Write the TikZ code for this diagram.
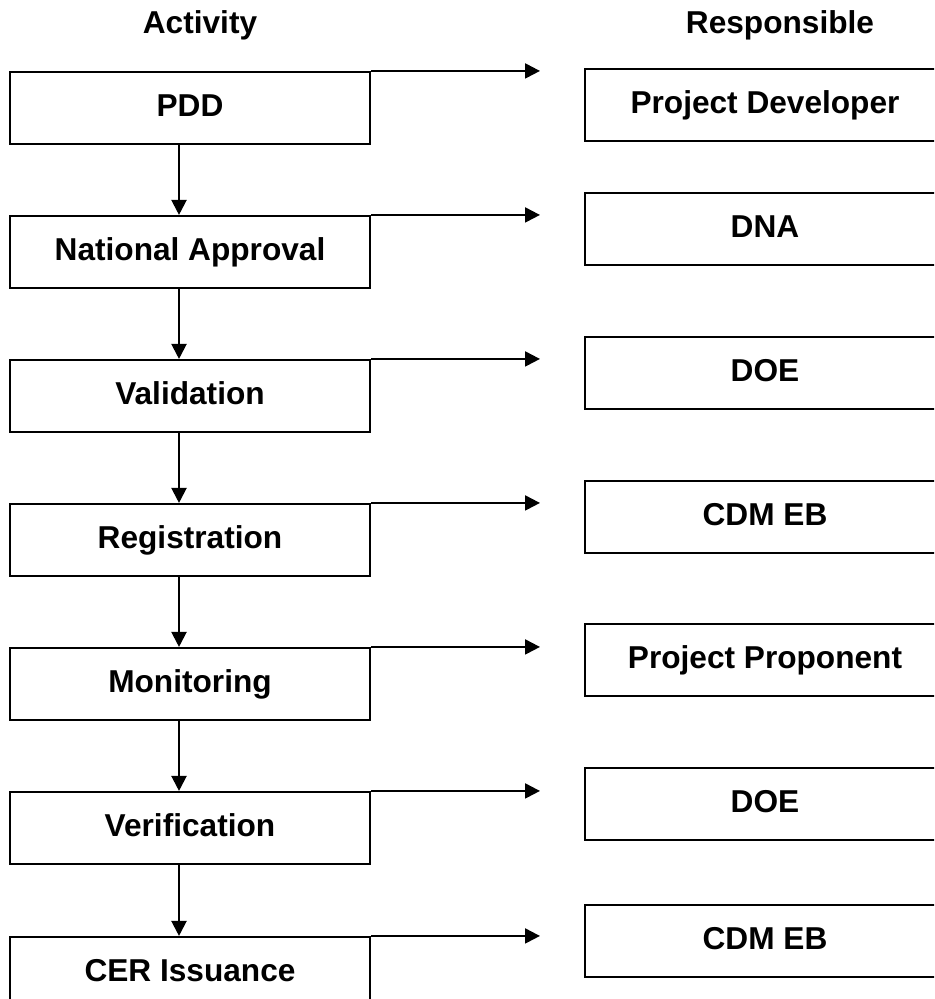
\documentclass[tikz,border=0pt]{standalone}
\usepackage{fontspec}
\setmainfont{Liberation Sans}
\usetikzlibrary{arrows.meta}
\begin{document}
\begin{tikzpicture}[
    box/.style={draw, line width=1.2pt, minimum width=7.2cm, minimum height=1.44cm, inner sep=0pt,
        text height=14pt, text depth=4.5pt, font=\fontsize{18}{22}\selectfont\bfseries},
    head/.style={anchor=base, font=\fontsize{18}{22}\selectfont\bfseries},
    flow/.style={line width=1.2pt, -{Triangle[length=0.3cm, width=0.3cm]}}
]
\clip (0,0) rectangle (18.68,-19.98);

% headings
\node[head] (activity) at (4.0,-0.68) {Activity};
\node[head] (respons) at (15.6,-0.68) {Responsible};

% activities
\node[box] (pdd) at (3.8,-2.16) {PDD};
\node[box] (natappr) at (3.8,-5.04) {National Approval};
\node[box] (valid) at (3.8,-7.92) {Validation};
\node[box] (regist) at (3.8,-10.80) {Registration};
\node[box] (monit) at (3.8,-13.68) {Monitoring};
\node[box] (verif) at (3.8,-16.56) {Verification};
\node[box] (cer) at (3.8,-19.46) {CER Issuance};

% responsible
\node[box] (devel) at (15.3,-2.10) {Project Developer};
\node[box] (dna) at (15.3,-4.58) {DNA};
\node[box] (doe1) at (15.3,-7.46) {DOE};
\node[box] (cdmeb1) at (15.3,-10.34) {CDM EB};
\node[box] (propon) at (15.3,-13.20) {Project Proponent};
\node[box] (doe2) at (15.3,-16.08) {DOE};
\node[box] (cdmeb2) at (15.3,-18.82) {CDM EB};

\coordinate (tipx) at (10.8,0);

\draw[flow] ([xshift=-0.22cm]pdd.south) -- ([xshift=-0.22cm]natappr.north);
\draw[flow] ([xshift=-0.22cm]natappr.south) -- ([xshift=-0.22cm]valid.north);
\draw[flow] ([xshift=-0.22cm]valid.south) -- ([xshift=-0.22cm]regist.north);
\draw[flow] ([xshift=-0.22cm]regist.south) -- ([xshift=-0.22cm]monit.north);
\draw[flow] ([xshift=-0.22cm]monit.south) -- ([xshift=-0.22cm]verif.north);
\draw[flow] ([xshift=-0.22cm]verif.south) -- ([xshift=-0.22cm]cer.north);

\draw[flow] (pdd.north east) -- (pdd.north east -| tipx);
\draw[flow] (natappr.north east) -- (natappr.north east -| tipx);
\draw[flow] (valid.north east) -- (valid.north east -| tipx);
\draw[flow] (regist.north east) -- (regist.north east -| tipx);
\draw[flow] (monit.north east) -- (monit.north east -| tipx);
\draw[flow] (verif.north east) -- (verif.north east -| tipx);
\draw[flow] (cer.north east) -- (cer.north east -| tipx);
\end{tikzpicture}
\end{document}
